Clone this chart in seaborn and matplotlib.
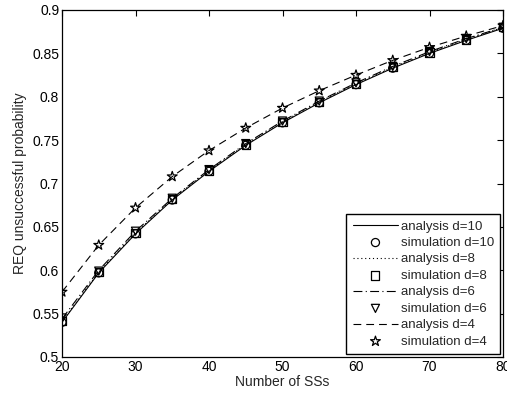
import matplotlib
matplotlib.use("Agg")
import matplotlib.pyplot as plt
import seaborn as sns
import pandas as pd

sns.set_theme(style="white")
plt.rcParams['font.family'] = ['Liberation Sans', 'DejaVu Sans']

num_ss = [20, 25, 30, 35, 40, 45, 50, 55, 60, 65, 70, 75, 80]
ana_d10 = [0.540, 0.597, 0.642, 0.681, 0.714, 0.744, 0.770, 0.793, 0.814, 0.833, 0.850, 0.865, 0.879]
sim_d10 = [0.540, 0.597, 0.642, 0.681, 0.714, 0.744, 0.770, 0.793, 0.814, 0.833, 0.850, 0.865, 0.879]
ana_d8 = [0.541, 0.598, 0.643, 0.682, 0.715, 0.745, 0.771, 0.794, 0.815, 0.834, 0.851, 0.866, 0.880]
sim_d8 = [0.541, 0.598, 0.643, 0.682, 0.715, 0.745, 0.771, 0.794, 0.815, 0.834, 0.851, 0.866, 0.880]
ana_d6 = [0.544, 0.600, 0.645, 0.683, 0.716, 0.746, 0.772, 0.795, 0.816, 0.835, 0.852, 0.867, 0.880]
sim_d6 = [0.545, 0.599, 0.645, 0.683, 0.716, 0.746, 0.772, 0.795, 0.816, 0.835, 0.852, 0.867, 0.880]
ana_d4 = [0.575, 0.629, 0.672, 0.708, 0.738, 0.764, 0.787, 0.807, 0.825, 0.842, 0.857, 0.870, 0.882]
sim_d4 = [0.575, 0.629, 0.672, 0.708, 0.738, 0.764, 0.787, 0.807, 0.825, 0.842, 0.857, 0.870, 0.882]

series = [
    ("analysis d=10", ana_d10, "line", "-", None),
    ("simulation d=10", sim_d10, "marker", None, "o"),
    ("analysis d=8", ana_d8, "line", (0, (1, 2.5)), None),
    ("simulation d=8", sim_d8, "marker", None, "s"),
    ("analysis d=6", ana_d6, "line", (0, (8, 3, 1, 3)), None),
    ("simulation d=6", sim_d6, "marker", None, "v"),
    ("analysis d=4", ana_d4, "line", (0, (7, 4.5)), None),
    ("simulation d=4", sim_d4, "marker", None, "*"),
]

fig = plt.figure(figsize=(5.07, 4.0), dpi=100)
ax = fig.add_axes([62/507, 1-357/400, (503-62)/507, (357-10)/400])

for label, vals, kind, ls, mk in series:
    df = pd.DataFrame({"x": num_ss, "y": vals})
    if kind == "line":
        sns.lineplot(data=df, x="x", y="y", ax=ax, color="black", linestyle=ls,
                     linewidth=0.8, label=label)
    else:
        size = 55 if mk == "*" else 34
        sns.scatterplot(data=df, x="x", y="y", ax=ax, marker=mk, s=size,
                        facecolors="none", edgecolors="black", linewidths=0.9,
                        label=label, zorder=3)

ax.set_xlim(20, 80)
ax.set_ylim(0.5, 0.9)
ax.set_xticks([20, 30, 40, 50, 60, 70, 80])
ax.set_yticks([0.5, 0.55, 0.6, 0.65, 0.7, 0.75, 0.8, 0.85, 0.9])
ax.set_yticklabels(["0.5", "0.55", "0.6", "0.65", "0.7", "0.75", "0.8", "0.85", "0.9"])
ax.set_xlabel("Number of SSs", fontsize=10, labelpad=1)
ax.set_ylabel("REQ unsuccessful probability", fontsize=10, labelpad=4)
ax.tick_params(direction="in", length=4, width=0.8, top=True, right=True,
               labelsize=10, pad=2, color="black", colors="black")
for sp in ax.spines.values():
    sp.set_color("black")
    sp.set_linewidth(0.9)

leg = ax.legend(loc="lower right", fontsize=9.5, frameon=True, fancybox=False,
                borderaxespad=0.2, handlelength=3.4, labelspacing=0.32,
                borderpad=0.5, handletextpad=0.2)
leg.get_frame().set_edgecolor("black")
leg.get_frame().set_linewidth(1.0)
leg.get_frame().set_alpha(1)

fig.savefig("out.png", dpi=100)
